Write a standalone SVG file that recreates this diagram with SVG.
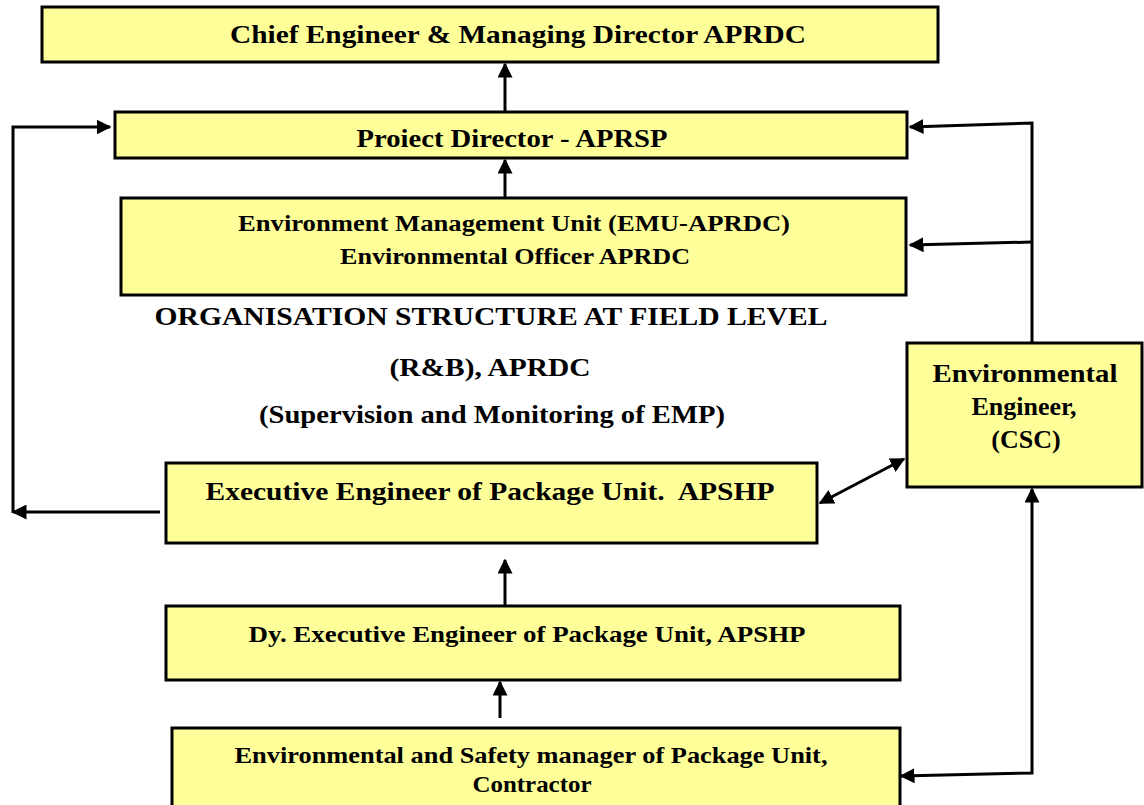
<svg xmlns="http://www.w3.org/2000/svg" width="1144" height="805" viewBox="0 0 1144 805">
  <style>
    .box { fill: #ffff99; stroke: #000; stroke-width: 3; }
    .t { font-family: "Liberation Serif", "DejaVu Serif", serif; font-weight: bold; fill: #000; text-anchor: middle; }
    .link { fill: none; stroke: #000; stroke-width: 3; }
  </style>
  <defs>
    <marker id="arrow" viewBox="0 0 10 10" refX="9" refY="5" markerWidth="5" markerHeight="5" orient="auto-start-reverse" markerUnits="strokeWidth">
      <path d="M0,0 L10,5 L0,10 Z" fill="#000"/>
    </marker>
  </defs>
  <rect width="1144" height="805" fill="#fff"/>

  <g id="chief">
    <rect class="box" x="42" y="7" width="896" height="55"/>
    <text class="t" x="518" y="43" font-size="26" textLength="576" lengthAdjust="spacingAndGlyphs">Chief Engineer &amp; Managing Director APRDC</text>
  </g>
  <g id="project-director">
    <rect class="box" x="115" y="112" width="792" height="46"/>
    <text class="t" x="512" y="147" font-size="26" textLength="311" lengthAdjust="spacingAndGlyphs">Proiect Director - APRSP</text>
  </g>
  <g id="emu">
    <rect class="box" x="121" y="198" width="785" height="97"/>
    <text class="t" x="514" y="231" font-size="24" textLength="552" lengthAdjust="spacingAndGlyphs">Environment Management Unit (EMU-APRDC)</text>
    <text class="t" x="515" y="264" font-size="24" textLength="350" lengthAdjust="spacingAndGlyphs">Environmental Officer APRDC</text>
  </g>
  <g id="heading">
    <text class="t" x="491" y="325" font-size="26" textLength="673" lengthAdjust="spacingAndGlyphs">ORGANISATION STRUCTURE AT FIELD LEVEL</text>
    <text class="t" x="490" y="376" font-size="26" textLength="201" lengthAdjust="spacingAndGlyphs">(R&amp;B), APRDC</text>
    <text class="t" x="492" y="423" font-size="26" textLength="466" lengthAdjust="spacingAndGlyphs">(Supervision and Monitoring of EMP)</text>
  </g>
  <g id="executive-engineer">
    <rect class="box" x="166" y="463" width="651" height="80"/>
    <text class="t" x="490" y="500" font-size="26" textLength="569" lengthAdjust="spacingAndGlyphs" xml:space="preserve">Executive Engineer of Package Unit.  APSHP</text>
  </g>
  <g id="environmental-engineer">
    <rect class="box" x="907" y="343" width="235" height="144"/>
    <text class="t" x="1025" y="382" font-size="26" textLength="185" lengthAdjust="spacingAndGlyphs">Environmental</text>
    <text class="t" x="1024" y="415" font-size="26">Engineer,</text>
    <text class="t" x="1026" y="448" font-size="26">(CSC)</text>
  </g>
  <g id="dy-executive-engineer">
    <rect class="box" x="166" y="606" width="734" height="74"/>
    <text class="t" x="527" y="642" font-size="24" textLength="557" lengthAdjust="spacingAndGlyphs">Dy. Executive Engineer of Package Unit, APSHP</text>
  </g>
  <g id="safety-manager">
    <rect class="box" x="172" y="728" width="728" height="80"/>
    <text class="t" x="531" y="763" font-size="23" textLength="593" lengthAdjust="spacingAndGlyphs">Environmental and Safety manager of Package Unit,</text>
    <text class="t" x="532" y="792" font-size="23" textLength="119" lengthAdjust="spacingAndGlyphs">Contractor</text>
  </g>

  <g id="connectors">
    <line class="link" x1="505" y1="112" x2="505" y2="64" marker-end="url(#arrow)"/>
    <line class="link" x1="505" y1="198" x2="505" y2="160" marker-end="url(#arrow)"/>
    <line class="link" x1="505" y1="606" x2="505" y2="560" marker-end="url(#arrow)"/>
    <line class="link" x1="500" y1="718" x2="500" y2="682" marker-end="url(#arrow)"/>
    <line class="link" x1="160" y1="512" x2="13" y2="512" marker-end="url(#arrow)"/>
    <polyline class="link" points="13,513 13,127 110,127" marker-end="url(#arrow)"/>
    <polyline class="link" points="1032,343 1032,123 910,127" marker-end="url(#arrow)"/>
    <line class="link" x1="1032" y1="242" x2="910" y2="245" marker-end="url(#arrow)"/>
    <line class="link" x1="820" y1="503" x2="904" y2="459" marker-start="url(#arrow)" marker-end="url(#arrow)"/>
    <polyline class="link" points="901,776 1032,773 1032,489" marker-start="url(#arrow)" marker-end="url(#arrow)"/>
  </g>
</svg>
